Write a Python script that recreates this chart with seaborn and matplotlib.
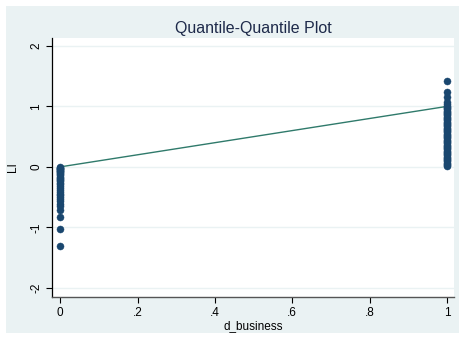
import matplotlib
matplotlib.use("Agg")
import matplotlib.pyplot as plt
import seaborn as sns
import pandas as pd
from matplotlib.patches import Rectangle

# Sorted quantiles of LI, paired with sorted quantiles of d_business
li_at_zero = [-1.30, -1.03, -0.83, -0.72, -0.65, -0.61, -0.57, -0.53, -0.50,
              -0.47, -0.44, -0.41, -0.38, -0.35, -0.32, -0.29, -0.27, -0.24,
              -0.22, -0.20, -0.18, -0.16, -0.14, -0.12, -0.10, -0.08, -0.07,
              -0.06, -0.05, -0.04, -0.03, -0.02, -0.01, 0.00]
li_at_one = [0.01, 0.03, 0.05, 0.07, 0.09, 0.11, 0.13, 0.15, 0.17, 0.19, 0.21,
             0.23, 0.25, 0.27, 0.29, 0.31, 0.33, 0.35, 0.37, 0.39, 0.41, 0.43,
             0.45, 0.47, 0.49, 0.51, 0.53, 0.55, 0.57, 0.59, 0.61, 0.63, 0.65,
             0.67, 0.69, 0.71, 0.73, 0.75, 0.77, 0.79, 0.81, 0.83, 0.85, 0.87,
             0.89, 0.91, 0.93, 0.95, 0.97, 0.99, 1.01, 1.04, 1.08, 1.15, 1.24,
             1.42]
x_ticks = [0, 0.2, 0.4, 0.6, 0.8, 1]
x_tick_labels = ["0", ".2", ".4", ".6", ".8", "1"]
y_ticks = [-2, -1, 0, 1, 2]
ref_line_x = [0, 1]
ref_line_y = [0, 1]

df = pd.DataFrame({
    "d_business": [0.0] * len(li_at_zero) + [1.0] * len(li_at_one),
    "LI": li_at_zero + li_at_one,
})

sns.set_theme(style="white")
plt.rcParams["font.family"] = ["Liberation Sans", "DejaVu Sans"]

navy = "#1A476F"
bg = "#EAF2F3"
text_col = "#1E2A4A"

fig = plt.figure(figsize=(4.63, 3.38), dpi=100)
fig.patch.set_facecolor("white")
fig.patches.append(Rectangle((6 / 463, 5 / 338), (459 - 6) / 463, (332 - 5) / 338,
                             transform=fig.transFigure, facecolor=bg,
                             edgecolor="none", zorder=-10))

ax = fig.add_axes([52 / 463, 1 - 297 / 338, (454 - 52) / 463, (297 - 38) / 338])
ax.set_facecolor("white")

for yv in y_ticks:
    ax.axhline(yv, color=bg, lw=1.0, zorder=0)

sns.lineplot(x=ref_line_x, y=ref_line_y, ax=ax, color="#2F7A6B", lw=1.0,
             zorder=2)
sns.scatterplot(data=df, x="d_business", y="LI", ax=ax, color=navy, s=26,
                edgecolor=navy, linewidth=0.3, zorder=3)

ax.set_xlim(-0.021, 1.018)
ax.set_ylim(-2.15, 2.13)
ax.set_xticks(x_ticks)
ax.set_xticklabels(x_tick_labels)
ax.set_yticks(y_ticks)
ax.set_yticklabels([str(v) for v in y_ticks], rotation=90, va="center")

for s in ["top", "right"]:
    ax.spines[s].set_visible(False)
ax.spines["left"].set_color("black")
ax.spines["bottom"].set_color("#555555")
ax.spines["left"].set_linewidth(0.9)
ax.spines["bottom"].set_linewidth(1.0)

ax.tick_params(axis="both", direction="out", length=4, width=0.8,
               color="black", labelsize=8.5, labelcolor="black", pad=3,
               left=True, bottom=True)

ax.set_xlabel("d_business", fontsize=8.5, color="black", labelpad=1)
ax.set_ylabel("LI", fontsize=8.5, color="black", labelpad=8)

fig.text(253 / 463, 1 - 29 / 338, "Quantile-Quantile Plot", ha="center",
         va="center", fontsize=11.5, color=text_col)

fig.savefig("out.png", dpi=100, facecolor="white")
